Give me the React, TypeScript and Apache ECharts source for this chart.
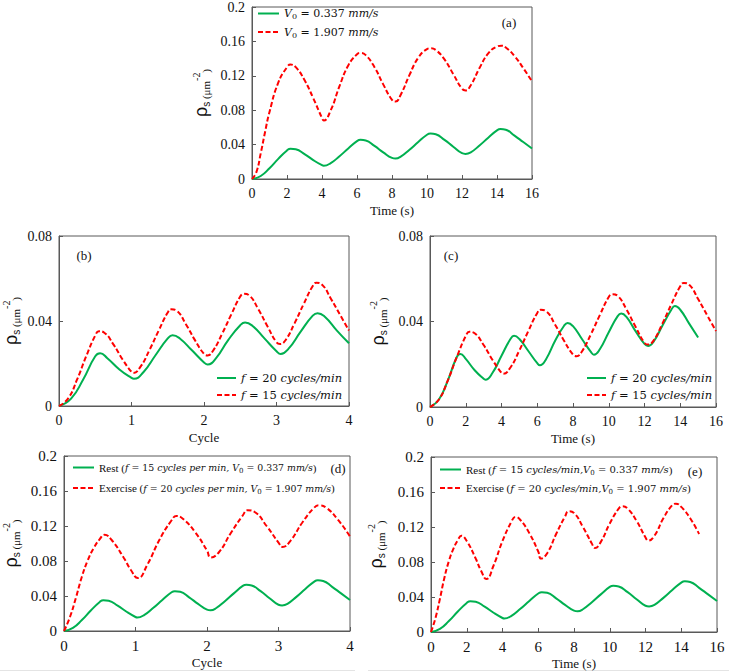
import React, { useEffect, useRef } from "react";
import * as echarts from "echarts";

// ---- data (time in s, rho_s in um^-2) ----
// Rest: f = 15 cycles/min, V0 = 0.337 mm/s
const T_REST = [0, 0.5, 1, 1.5, 2, 2.2, 2.5, 3, 3.5, 4, 4.1, 4.5, 5, 5.5, 6, 6.2, 6.5, 7, 7.5, 8, 8.2, 8.5, 9, 9.5, 10, 10.2, 10.5, 11, 11.5, 12, 12.2, 12.5, 13, 13.5, 14, 14.2, 14.5, 15, 15.5, 16];
const V_REST = [0, 0.0035, 0.0125, 0.0234, 0.0332, 0.0352, 0.0345, 0.029, 0.022, 0.016, 0.0155, 0.0185, 0.0265, 0.0355, 0.044, 0.0455, 0.0448, 0.0385, 0.031, 0.0245, 0.0238, 0.026, 0.034, 0.043, 0.0515, 0.0528, 0.052, 0.0455, 0.0375, 0.03, 0.0292, 0.031, 0.039, 0.048, 0.0565, 0.058, 0.0572, 0.0505, 0.043, 0.0355];

// f = 15 cycles/min, V0 = 1.907 mm/s
const T_EX15 = [0, 0.25, 0.5, 0.75, 1, 1.5, 2, 2.2, 2.5, 3, 3.5, 4, 4.1, 4.5, 5, 5.5, 6, 6.2, 6.5, 7, 7.5, 8, 8.2, 8.5, 9, 9.5, 10, 10.2, 10.5, 11, 11.5, 12, 12.2, 12.5, 13, 13.5, 14, 14.25, 14.5, 15, 15.5, 16];
const V_EX15 = [0, 0.008, 0.03, 0.055, 0.078, 0.112, 0.13, 0.133, 0.13, 0.115, 0.094, 0.071, 0.068, 0.08, 0.108, 0.132, 0.145, 0.1465, 0.144, 0.13, 0.11, 0.092, 0.09, 0.098, 0.121, 0.141, 0.151, 0.152, 0.15, 0.139, 0.122, 0.105, 0.103, 0.109, 0.129, 0.146, 0.154, 0.155, 0.153, 0.143, 0.129, 0.1135];

// f = 20 cycles/min, V0 = 0.337 mm/s
const T_F20 = [0, 0.5, 1, 1.5, 1.7, 2, 2.5, 3, 3.1, 3.5, 4, 4.5, 4.7, 5, 5.5, 6, 6.15, 6.5, 7, 7.5, 7.7, 8, 8.5, 9, 9.17, 9.5, 10, 10.5, 10.7, 11, 11.5, 12, 12.2, 12.5, 13, 13.5, 13.7, 14, 14.5, 15];
const V_F20 = [0, 0.0035, 0.0125, 0.0234, 0.0248, 0.0225, 0.0172, 0.0132, 0.0128, 0.016, 0.024, 0.0318, 0.0333, 0.0318, 0.0262, 0.0205, 0.0195, 0.0225, 0.031, 0.038, 0.0393, 0.0378, 0.0318, 0.0258, 0.0245, 0.027, 0.035, 0.0425, 0.0437, 0.042, 0.0355, 0.0295, 0.0285, 0.0305, 0.038, 0.0455, 0.0472, 0.0455, 0.039, 0.0325];

// Exercise: f = 20 cycles/min, V0 = 1.907 mm/s
const T_EX20 = [0, 0.25, 0.5, 0.75, 1, 1.25, 1.5, 1.7, 2, 2.5, 2.8, 3.1, 3.5, 4, 4.5, 4.72, 5, 5.5, 6, 6.15, 6.5, 7, 7.5, 7.7, 8, 8.5, 9, 9.17, 9.5, 10, 10.5, 10.7, 11, 11.5, 12, 12.15, 12.5, 13, 13.5, 13.7, 14, 14.5, 15];
const V_EX20 = [0, 0.016, 0.038, 0.062, 0.081, 0.095, 0.105, 0.11, 0.104, 0.084, 0.07, 0.0605, 0.076, 0.104, 0.126, 0.1315, 0.128, 0.113, 0.092, 0.084, 0.09, 0.112, 0.132, 0.138, 0.136, 0.12, 0.101, 0.096, 0.103, 0.124, 0.141, 0.1436, 0.141, 0.127, 0.108, 0.1044, 0.11, 0.13, 0.145, 0.1467, 0.143, 0.13, 0.112];

const PERIOD_15 = 4; // s per cycle at 15 cycles/min
const PERIOD_20 = 3; // s per cycle at 20 cycles/min
const CYCLE_MAX = 4;

const GREEN = "#00b050";
const RED = "#ff0000";
const AXIS = "#595959";

const pairs = (ts: number[], vs: number[], div = 1, maxX = Infinity) =>
  ts.map((t, i) => [t / div, vs[i]]).filter((p) => p[0] <= maxX + 1e-9);

const YNAME = "{rho|ρ}{s|s}{u| (μm}{sp|-2}{u|)}";
const LEGEND_TEXT: Record<string, string> = {
  a1: "{it|V}{sb|0}{up| = 0.337 }{it|mm/s}",
  a2: "{it|V}{sb|0}{up| = 1.907 }{it|mm/s}",
  b1: "{it|f}{up| = 20 }{it|cycles/min}",
  b2: "{it|f}{up| = 15 }{it|cycles/min}",
  c1: "{it|f}{up| = 20 }{it|cycles/min}",
  c2: "{it|f}{up| = 15 }{it|cycles/min}",
  d1: "{rm|Rest (}{it|f}{up| = 15 }{it|cycles per min, V}{sb|0}{up| = 0.337 }{it|mm/s}{rm|)}",
  d2: "{rm|Exercise (}{it|f}{up| = 20 }{it|cycles per min, V}{sb|0}{up| = 1.907 }{it|mm/s}{rm|)}",
  e1: "{rm|Rest (}{it|f}{up| = 15 }{it|cycles/min,V}{sb|0}{up| = 0.337 }{it|mm/s}{rm|)}",
  e2: "{rm|Exercise (}{it|f}{up| = 20 }{it|cycles/min,V}{sb|0}{up| = 1.907 }{it|mm/s}{rm|)}",
};

const richFor = (size: number, rmSize: number) => ({
  it: { fontFamily: "DejaVu Serif", fontStyle: "italic", fontSize: size, color: "#111", lineHeight: 14 },
  up: { fontFamily: "DejaVu Serif", fontSize: size, color: "#111", lineHeight: 14 },
  sb: { fontFamily: "DejaVu Serif", fontSize: Math.round(size * 0.72), color: "#111", lineHeight: 9, verticalAlign: "bottom" },
  rm: { fontFamily: "Liberation Serif", fontSize: rmSize, color: "#111", lineHeight: 14 },
});

export default function App() {
  const ref = useRef<HTMLDivElement>(null);
  useEffect(() => {
    document.body.style.margin = "0";
    const chart = echarts.init(ref.current!, null, { renderer: "svg" });
    const serif = "Liberation Serif";
    const richY = {
      rho: { fontFamily: "Liberation Sans", fontSize: 18, color: "#111", lineHeight: 20 },
      s: { fontFamily: "Liberation Sans", fontSize: 10, color: "#111", lineHeight: 10, verticalAlign: "bottom" },
      u: { fontFamily: serif, fontSize: 11, color: "#111", lineHeight: 13, verticalAlign: "bottom" },
      sp: { fontFamily: serif, fontSize: 10, color: "#111", lineHeight: 10, verticalAlign: "top" },
    };

    const grids = [
      { left: 252, top: 6, width: 280, height: 173 },
      { left: 58, top: 236, width: 291, height: 170 },
      { left: 430, top: 236, width: 286, height: 171 },
      { left: 63, top: 456, width: 287, height: 175 },
      { left: 431, top: 457, width: 286, height: 175 },
    ].map((g) => ({ ...g, show: true, borderColor: AXIS, borderWidth: 1, backgroundColor: "transparent" }));

    const xDefs = [
      { max: 16, interval: 2, name: "Time (s)", fs: 14 },
      { max: CYCLE_MAX, interval: 1, name: "Cycle", fs: 14 },
      { max: 16, interval: 2, name: "Time (s)", fs: 14 },
      { max: CYCLE_MAX, interval: 1, name: "Cycle", fs: 15 },
      { max: 16, interval: 2, name: "Time (s)", fs: 15 },
    ];
    const xAxis = xDefs.map((d, i) => ({
      type: "value",
      gridIndex: i,
      min: 0,
      max: d.max,
      interval: d.interval,
      name: d.name,
      nameLocation: "middle",
      nameGap: 25,
      nameTextStyle: { fontFamily: serif, fontSize: 13, color: "#111" },
      axisLine: { show: true, lineStyle: { color: AXIS, width: 1 } },
      axisTick: { show: true, inside: true, length: 4, lineStyle: { color: AXIS } },
      axisLabel: { fontFamily: serif, fontSize: d.fs, color: "#111", margin: 7 },
      splitLine: { show: false },
    }));
    const yDefs = [
      { max: 0.2, interval: 0.04, gap: 41, fs: 14 },
      { max: 0.08, interval: 0.04, gap: 38, fs: 14 },
      { max: 0.08, interval: 0.04, gap: 42, fs: 14 },
      { max: 0.2, interval: 0.04, gap: 43, fs: 15 },
      { max: 0.2, interval: 0.04, gap: 45, fs: 15 },
    ];
    const yAxis = yDefs.map((d, i) => ({
      type: "value",
      gridIndex: i,
      min: 0,
      max: d.max,
      interval: d.interval,
      name: YNAME,
      nameLocation: "middle",
      nameGap: d.gap,
      nameTextStyle: { rich: richY },
      axisLine: { show: true, lineStyle: { color: AXIS, width: 1 } },
      axisTick: { show: true, inside: true, length: 4, lineStyle: { color: AXIS } },
      axisLabel: { fontFamily: serif, fontSize: d.fs, color: "#111", margin: 7 },
      splitLine: { show: false },
    }));

    const line = (name: string, idx: number, data: number[][], dashed: boolean) => ({
      type: "line",
      name,
      xAxisIndex: idx,
      yAxisIndex: idx,
      data,
      smooth: 0.5,
      symbol: "none",
      showSymbol: false,
      lineStyle: { color: dashed ? RED : GREEN, width: 2, type: dashed ? [5, 2.5] : "solid" },
      itemStyle: { color: dashed ? RED : GREEN },
      z: dashed ? 3 : 2,
    });

    const series = [
      line("a1", 0, pairs(T_REST, V_REST), false),
      line("a2", 0, pairs(T_EX15, V_EX15), true),
      line("b1", 1, pairs(T_F20, V_F20, PERIOD_20, CYCLE_MAX), false),
      line("b2", 1, pairs(T_REST, V_REST, PERIOD_15, CYCLE_MAX), true),
      line("c1", 2, pairs(T_F20, V_F20), false),
      line("c2", 2, pairs(T_REST, V_REST), true),
      line("d1", 3, pairs(T_REST, V_REST, PERIOD_15, CYCLE_MAX), false),
      line("d2", 3, pairs(T_EX20, V_EX20, PERIOD_20, CYCLE_MAX), true),
      line("e1", 4, pairs(T_REST, V_REST), false),
      line("e2", 4, pairs(T_EX20, V_EX20), true),
    ];

    const legDefs = [
      { data: ["a1", "a2"], left: 257, top: 8, gap: 6, w: 21, rich: richFor(11, 13) },
      { data: ["b1", "b2"], left: 216, top: 372, gap: 5, w: 19, rich: richFor(11.5, 13) },
      { data: ["c1", "c2"], left: 586, top: 372, gap: 5, w: 19, rich: richFor(11.5, 13) },
      { data: ["d1", "d2"], left: 72, top: 462, gap: 8, w: 21, rich: richFor(9.4, 11) },
      { data: ["e1", "e2"], left: 439, top: 464, gap: 6, w: 21, rich: richFor(10, 11) },
    ];
    const legend = legDefs.map((l) => ({
      data: l.data,
      left: l.left,
      top: l.top,
      orient: "vertical",
      itemWidth: l.w,
      itemHeight: 10,
      itemGap: l.gap,
      padding: 0,
      selectedMode: false,
      itemStyle: { opacity: 0 },
      formatter: (n: string) => LEGEND_TEXT[n],
      textStyle: { rich: l.rich, padding: 0 },
    }));

    const labels = [
      { t: "(a)", x: 509, y: 22 },
      { t: "(b)", x: 84, y: 255 },
      { t: "(c)", x: 451, y: 255 },
      { t: "(d)", x: 338, y: 468 },
      { t: "(e)", x: 695, y: 471 },
    ];

    chart.setOption({
      animation: false,
      backgroundColor: "#ffffff",
      grid: grids,
      xAxis,
      yAxis,
      series,
      legend,
      graphic: [
        ...labels.map((l) => ({
          type: "text",
          x: l.x,
          y: l.y,
          style: { text: l.t, fontFamily: serif, fontSize: 13, fill: "#111", align: "center", verticalAlign: "middle" },
        })),
        { type: "line", shape: { x1: 0, y1: 670.5, x2: 355, y2: 670.5 }, style: { stroke: "#e4e4e4", lineWidth: 1 } },
        { type: "line", shape: { x1: 368, y1: 670.5, x2: 729, y2: 670.5 }, style: { stroke: "#e4e4e4", lineWidth: 1 } },
      ],
    });
    return () => chart.dispose();
  }, []);
  return <div ref={ref} style={{ width: 729, height: 672 }} />;
}
